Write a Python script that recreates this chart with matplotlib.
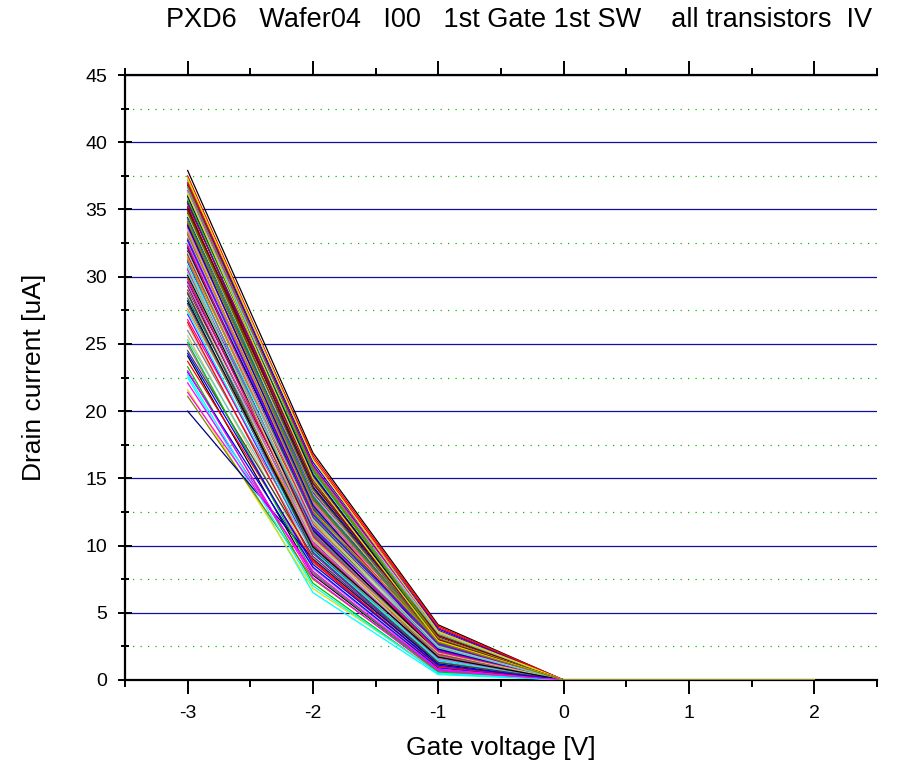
import matplotlib
matplotlib.use("Agg")
import matplotlib.pyplot as plt
from matplotlib.ticker import MultipleLocator

plt.rcParams['font.family'] = ['Liberation Sans', 'DejaVu Sans']
plt.rcParams['axes.unicode_minus'] = False

# gate voltages of the sweep
gate_v = [-3, -2, -1, 0, 1, 2]

# drain current [uA] per transistor at Vg = -3, -2, -1 V (0, 1, 2 V are all ~0)
i_m3 = [37.9, 37.5, 37.2, 36.9, 36.6, 36.4, 36.1, 35.9, 35.6, 35.4,
        35.2, 34.9, 34.7, 34.4, 34.2, 33.9, 33.7, 33.4, 33.1, 32.9,
        32.6, 32.4, 32.1, 31.9, 31.6, 31.3, 31.1, 30.8, 30.5, 30.2,
        29.9, 29.6, 29.3, 29.0, 28.7, 28.4, 28.0, 27.6, 27.2, 26.8,
        26.4, 26.0, 25.6, 25.3, 24.9, 24.5, 24.1, 23.7, 23.3, 22.9,
        22.5, 22.1, 21.6, 21.1, 20.0, 36.8, 35.0, 34.0, 33.2, 32.2,
        31.4, 30.6, 29.8, 28.9, 27.9, 34.6, 36.3, 33.6, 31.7, 30.1,
        37.0, 35.7, 32.7, 27.4, 23.0, 37.3, 36.7, 36.0, 35.5, 35.1,
        34.8, 34.3, 33.8, 33.3, 32.8, 32.3, 31.8, 31.2, 30.7, 30.3,
        29.5, 28.8, 28.2, 26.6, 25.1, 24.3, 22.7, 21.4, 36.2, 34.1]
i_m2 = [16.9, 16.5, 15.8, 16.2, 15.1, 15.9, 14.8, 15.5, 14.3, 15.2,
        13.9, 14.7, 13.6, 14.4, 13.2, 14.0, 12.9, 13.8, 12.5, 13.4,
        12.2, 13.1, 11.8, 12.7, 11.5, 12.4, 11.2, 12.0, 10.9, 11.7,
        10.6, 11.4, 10.3, 11.0, 10.0, 10.8, 9.7, 10.5, 9.4, 10.1,
        9.1, 9.8, 8.7, 9.5, 8.3, 9.2, 7.8, 8.8, 7.2, 8.4,
        6.5, 7.9, 6.8, 7.5, 9.0, 16.0, 15.0, 13.5, 12.8, 12.3,
        11.9, 11.3, 10.7, 10.4, 9.9, 14.1, 15.4, 13.3, 12.1, 11.1,
        16.7, 15.6, 12.6, 9.6, 7.6, 16.4, 15.7, 15.3, 14.9, 14.6,
        14.2, 13.7, 13.0, 12.6, 12.3, 11.6, 11.9, 11.0, 10.5, 11.5,
        10.2, 9.5, 9.9, 8.9, 8.0, 8.6, 7.0, 8.1, 15.0, 13.4]
i_m1 = [4.1, 3.9, 3.3, 3.8, 3.0, 3.6, 2.9, 3.4, 2.8, 3.2,
        2.6, 3.1, 2.9, 3.0, 2.4, 2.9, 2.7, 3.1, 2.2, 2.8,
        2.5, 2.9, 2.0, 2.6, 2.3, 2.8, 1.9, 2.4, 2.1, 2.6,
        1.7, 2.3, 1.5, 2.2, 1.8, 2.0, 1.4, 1.9, 1.2, 1.7,
        1.1, 1.5, 0.9, 1.4, 0.8, 1.2, 0.7, 1.0, 0.5, 0.9,
        0.4, 0.8, 0.6, 0.7, 1.2, 3.7, 3.3, 2.8, 2.6, 2.7,
        2.5, 2.2, 1.9, 1.6, 1.3, 2.9, 3.5, 2.9, 2.4, 2.0,
        4.0, 3.0, 2.9, 1.5, 0.6, 3.6, 3.1, 2.9, 2.7, 3.0,
        2.8, 2.5, 2.3, 2.9, 2.7, 2.1, 2.5, 1.8, 2.0, 2.4,
        1.6, 1.3, 1.7, 1.0, 0.6, 1.1, 0.5, 0.7, 2.9, 2.8]

# Origin style colour cycle
colors = ['#000000', '#FF0000', '#00C000', '#0000FF', '#00FFFF', '#FF00FF',
          '#E0E000', '#808000', '#000080', '#800080', '#800000', '#606000',
          '#008080', '#0000A0', '#FF8000', '#8000FF', '#FF0080', '#C0C0C0',
          '#808080', '#C8C860', '#60C8C8', '#C860C8', '#404040']

fig = plt.figure(figsize=(9.03, 7.72), dpi=100)
ax = fig.add_axes([0.1384, 0.1192, 0.8326, 0.7836])

for k in range(len(i_m3)):
    y = [i_m3[k], i_m2[k], i_m1[k], 0, 0, 0]
    ax.plot(gate_v, y, color=colors[k % len(colors)], lw=0.9, zorder=3)

ax.set_xlim(-3.5, 2.5)
ax.set_ylim(0, 45)
ax.xaxis.set_major_locator(MultipleLocator(1))
ax.xaxis.set_minor_locator(MultipleLocator(0.5))
ax.yaxis.set_major_locator(MultipleLocator(5))
ax.yaxis.set_minor_locator(MultipleLocator(2.5))

ax.grid(True, which='major', axis='y', color='#1010A0', lw=0.9, ls='-', zorder=1)
ax.grid(True, which='minor', axis='y', color='#00C000', lw=0.9, ls=(0, (1, 5)), zorder=1)
ax.grid(False, axis='x', which='both')

ax.spines['right'].set_visible(False)
for s in ['left', 'bottom', 'top']:
    ax.spines[s].set_linewidth(1.6)

ax.tick_params(axis='x', which='both', direction='out', top=True, bottom=True,
               labelsize=14, width=1.4, pad=8)
ax.tick_params(axis='x', which='major', length=10)
ax.tick_params(axis='x', which='minor', length=5)
ax.tick_params(axis='y', which='both', direction='inout', left=True, right=False,
               labelsize=14, width=1.4, pad=8)
ax.tick_params(axis='y', which='major', length=10)
ax.tick_params(axis='y', which='minor', length=6)

ax.set_xlabel('Gate voltage [V]', fontsize=19, labelpad=10)
ax.set_ylabel('Drain current [uA]', fontsize=19, labelpad=28)

fig.text(0.575, 0.974, 'PXD6   Wafer04   I00   1st Gate 1st SW    all transistors  IV',
         ha='center', va='center', fontsize=19.5)

plt.savefig('out.png', dpi=100)
